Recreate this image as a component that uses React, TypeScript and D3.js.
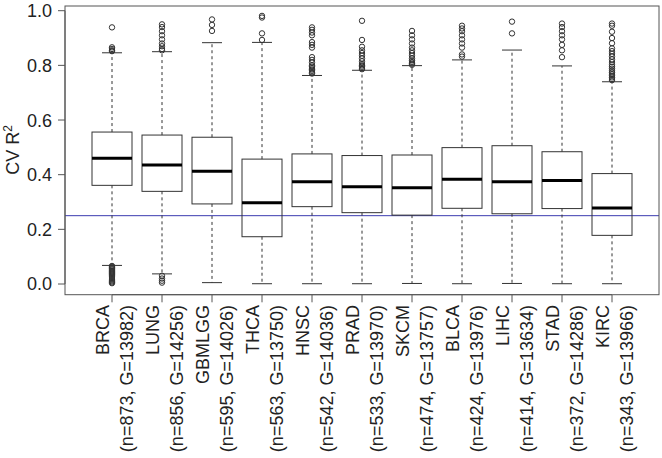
import React from "react";
import * as d3 from "d3";

const categories = ["BRCA", "LUNG", "GBMLGG", "THCA", "HNSC", "PRAD", "SKCM", "BLCA", "LIHC", "STAD", "KIRC"];
const sampleN = [873, 856, 595, 563, 542, 533, 474, 424, 414, 372, 343];
const geneG = [13982, 14256, 14026, 13750, 14036, 13970, 13757, 13976, 13634, 14286, 13966];
const q1 = [0.361, 0.339, 0.293, 0.173, 0.283, 0.261, 0.252, 0.277, 0.257, 0.276, 0.178];
const median = [0.46, 0.435, 0.413, 0.297, 0.374, 0.356, 0.352, 0.383, 0.374, 0.379, 0.278];
const q3 = [0.556, 0.545, 0.537, 0.457, 0.476, 0.47, 0.472, 0.499, 0.506, 0.484, 0.404];
const whiskerLow = [0.068, 0.037, 0.005, 0.001, 0.001, 0.001, 0.002, 0.001, 0.002, 0.001, 0.001];
const whiskerHigh = [0.846, 0.85, 0.883, 0.884, 0.763, 0.782, 0.799, 0.82, 0.856, 0.798, 0.74];
const outliers = [
  [0.939, 0.866, 0.86, 0.855, 0.852, 0.066, 0.063, 0.06, 0.057, 0.054, 0.05, 0.046, 0.042, 0.038, 0.034, 0.03, 0.026, 0.022, 0.018, 0.014, 0.01, 0.006, 0.003],
  [0.95, 0.94, 0.925, 0.91, 0.895, 0.88, 0.87, 0.86, 0.855, 0.03, 0.02, 0.012, 0.005],
  [0.968, 0.948, 0.926],
  [0.981, 0.975, 0.917, 0.893],
  [0.939, 0.93, 0.92, 0.91, 0.885, 0.875, 0.865, 0.83, 0.82, 0.81, 0.8, 0.795, 0.79, 0.785, 0.78, 0.775, 0.77],
  [0.963, 0.893, 0.868, 0.855, 0.845, 0.835, 0.825, 0.815, 0.805, 0.8, 0.795, 0.79, 0.786],
  [0.926, 0.91, 0.895, 0.88, 0.865, 0.855, 0.845, 0.835, 0.825, 0.818, 0.812, 0.806, 0.802],
  [0.945, 0.935, 0.925, 0.91, 0.895, 0.88, 0.865, 0.84, 0.832],
  [0.96, 0.917],
  [0.953, 0.94, 0.925, 0.91, 0.895, 0.875, 0.855, 0.83],
  [0.953, 0.945, 0.923, 0.9, 0.881, 0.862, 0.852, 0.842, 0.832, 0.822, 0.812, 0.802, 0.795, 0.788, 0.78, 0.774, 0.768, 0.762, 0.756, 0.75, 0.746],
];
const yTicks = [0, 0.2, 0.4, 0.6, 0.8, 1.0];
const refLine = 0.25;

const FONT = "'Liberation Sans', Arial, Helvetica, sans-serif";
const FS = 18;
const STROKE = "#333";

export default function App() {
  const x = d3.scaleLinear().domain([0.06, 11.94]).range([65, 659]);
  const y = d3.scaleLinear().domain([0, 1]).range([284, 10.7]);
  const top = 6;
  const bottom = 294.7;
  const left = 65;
  const right = 659;
  const halfBox = (x(1.4) - x(1));
  const halfCap = (x(1.2) - x(1));
  const fmt = d3.format(".1f");

  return (
    <svg width={662} height={458} style={{ position: "absolute", left: 0, top: 0, background: "#fff" }} fontFamily={FONT}>
      <rect x={0} y={0} width={662} height={458} fill="#fff" />
      <line x1={left} x2={right} y1={y(refLine)} y2={y(refLine)} stroke="#3b3bb0" strokeWidth={1} />
      {categories.map((c, i) => {
        const cx = x(i + 1);
        return (
          <g key={c}>
            <line x1={cx} x2={cx} y1={y(q3[i])} y2={y(whiskerHigh[i])} stroke={STROKE} strokeDasharray="3,3" strokeWidth={1} />
            <line x1={cx} x2={cx} y1={y(q1[i])} y2={y(whiskerLow[i])} stroke={STROKE} strokeDasharray="3,3" strokeWidth={1} />
            <line x1={cx - halfCap} x2={cx + halfCap} y1={y(whiskerHigh[i])} y2={y(whiskerHigh[i])} stroke={STROKE} strokeWidth={1} />
            <line x1={cx - halfCap} x2={cx + halfCap} y1={y(whiskerLow[i])} y2={y(whiskerLow[i])} stroke={STROKE} strokeWidth={1} />
            <rect x={cx - halfBox} width={halfBox * 2} y={y(q3[i])} height={y(q1[i]) - y(q3[i])} fill="none" stroke={STROKE} strokeWidth={1} />
            <line x1={cx - halfBox} x2={cx + halfBox} y1={y(median[i])} y2={y(median[i])} stroke="#000" strokeWidth={3} />
            {outliers[i].map((v, k) => (
              <circle key={k} cx={cx} cy={y(v)} r={2.7} fill="none" stroke={STROKE} strokeWidth={1} />
            ))}
          </g>
        );
      })}
      <rect x={left} y={top} width={right - left} height={bottom - top} fill="none" stroke="#555" strokeWidth={1} />
      <line x1={left} x2={left} y1={y(0)} y2={y(1)} stroke="#555" />
      {yTicks.map((t) => (
        <g key={t}>
          <line x1={left - 7} x2={left} y1={y(t)} y2={y(t)} stroke="#555" />
          <text x={52} y={y(t)} dy="0.36em" textAnchor="end" fontSize={FS} fill="#222">{fmt(t)}</text>
        </g>
      ))}
      <text transform={`translate(19,150) rotate(-90)`} textAnchor="middle" fontSize={FS} fill="#222">
        CV R<tspan fontSize={12} dy={-7}>2</tspan>
      </text>
      <line x1={x(1)} x2={x(11)} y1={bottom} y2={bottom} stroke="#555" />
      {categories.map((c, i) => (
        <g key={c} transform={`translate(${x(i + 1)},305) rotate(-90)`}>
          <line x1={10} x2={2.7} y1={0} y2={0} stroke="#555" />
          <text x={0} y={-3} textAnchor="end" fontSize={FS} fill="#222">{c}</text>
          <text x={0} y={21} textAnchor="end" fontSize={FS} fill="#222">{`(n=${sampleN[i]}, G=${geneG[i]})`}</text>
        </g>
      ))}
    </svg>
  );
}
